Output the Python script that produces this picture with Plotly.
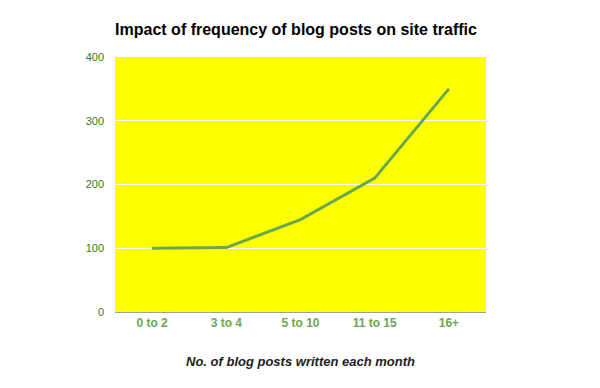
import plotly.graph_objects as go

categories = ["0 to 2", "3 to 4", "5 to 10", "11 to 15", "16+"]
traffic = [100, 101, 145, 210, 350]
y_ticks = [0, 100, 200, 300, 400]

# The page body has an 8px default margin; size the figure to fit inside.
W, H = 592, 380

fig = go.Figure()
fig.add_trace(go.Scatter(
    x=categories, y=traffic, mode="lines",
    line=dict(color="#6aa84f", width=3),
    hoverinfo="skip",
))

fig.update_layout(
    width=W, height=H,
    margin=dict(l=107, r=114, t=49, b=76),
    paper_bgcolor="white",
    plot_bgcolor="#ffff00",
    showlegend=False,
    font=dict(family="Liberation Sans, Arial, sans-serif"),
    title=dict(
        text="<b>Impact of frequency of blog posts on site traffic</b>",
        font=dict(size=16, color="#000000"),
        x=(296 - 8) / W, xanchor="center", xref="container",
        y=1 - (29 - 8) / H, yanchor="middle", yref="container",
    ),
    xaxis=dict(
        type="category", range=[-0.5, 4.5],
        showgrid=False, showline=True, linecolor="#9e9e9e", linewidth=1,
        ticks="", tickfont=dict(size=12, color="#6aa84f"),
        tickprefix="<b>", ticksuffix="</b>",
        fixedrange=True,
    ),
    yaxis=dict(
        range=[0, 400], tickvals=y_ticks,
        showgrid=True, gridcolor="#ffffff", gridwidth=1,
        zeroline=False, ticks="",
        tickfont=dict(size=11, color="#38761d"),
        tickprefix="<b>", ticksuffix="</b>",
        ticklabelstandoff=10,
        fixedrange=True,
    ),
    annotations=[dict(
        text="<b><i>No. of blog posts written each month</i></b>",
        xref="paper", yref="paper", x=0.5, y=0,
        xanchor="center", yanchor="middle", yshift=-49,
        showarrow=False, font=dict(size=13, color="#222222"),
    )],
)

fig.write_html("out.html")
